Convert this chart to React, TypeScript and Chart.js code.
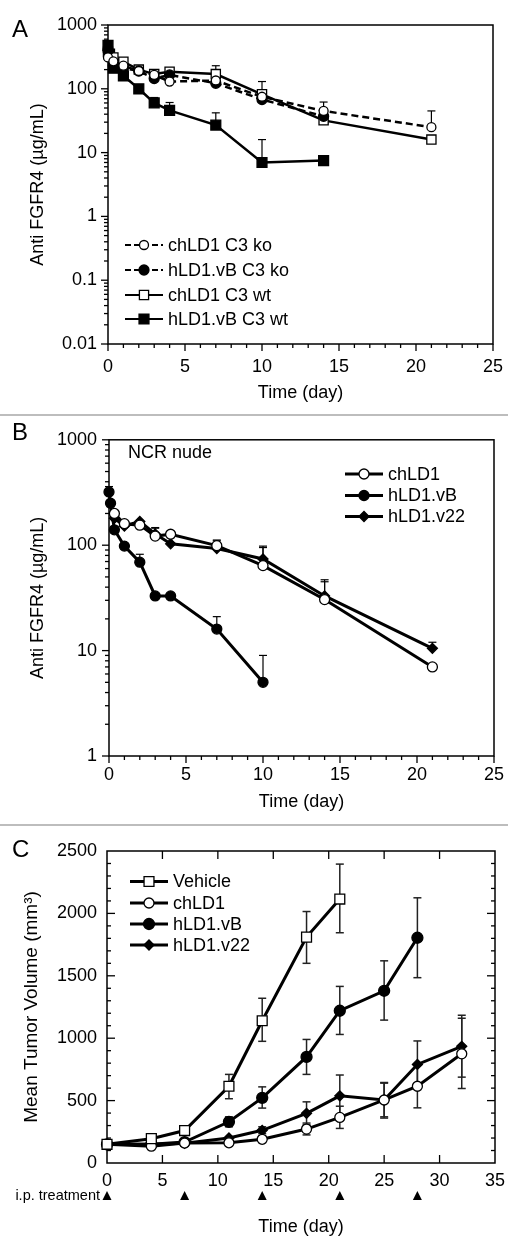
import React, { useEffect, useRef } from "react";
import { Chart, registerables } from "chart.js";
Chart.register(...registerables);

const FONT = "'Liberation Sans', Arial, Helvetica, sans-serif";
Chart.defaults.font.family = FONT;
Chart.defaults.color = "#000";

// ---------------- Panel A ----------------
const A_Y_TICKS = [0.01, 0.1, 1, 10, 100, 1000];

const A_CH_KO_DAYS = [0, 0.35, 1, 2, 3, 4, 7, 10, 14, 21];
const A_CH_KO_VALS = [310, 270, 230, 190, 165, 130, 135, 75, 45, 25];
const A_CH_KO_ERR = [null, null, null, null, null, 150, 150, 95, 62, 45];

const A_VB_KO_DAYS = [0, 0.35, 1, 2, 3, 4, 7, 10, 14];
const A_VB_KO_VALS = [400, 230, 210, 190, 145, 165, 122, 68, 37];
const A_VB_KO_ERR = [450, null, null, null, 165, null, 140, 80, 42];

const A_CH_WT_DAYS = [0, 0.35, 1, 2, 3, 4, 7, 10, 14, 21];
const A_CH_WT_VALS = [380, 310, 265, 200, 170, 185, 170, 82, 32, 16];
const A_CH_WT_ERR = [null, 330, 295, null, null, 200, 230, 130, 40, null];

const A_VB_WT_DAYS = [0, 0.1, 0.35, 1, 2, 3, 4, 7, 10, 14];
const A_VB_WT_VALS = [480, 350, 210, 160, 100, 60, 46, 27, 7, 7.5];
const A_VB_WT_ERR = [560, null, null, null, null, 73, 61, 42, 16, null];

// ---------------- Panel B ----------------
const B_Y_TICKS = [1, 10, 100, 1000];

const B_CH_DAYS = [0.35, 1, 2, 3, 4, 7, 10, 14, 21];
const B_CH_VALS = [200, 160, 155, 122, 127, 99, 64, 30.5, 7];
const B_CH_ERR = [null, null, null, 145, null, 110, 95, 45, null];

const B_VB_DAYS = [0, 0.1, 0.35, 1, 2, 3, 4, 7, 10];
const B_VB_VALS = [320, 250, 140, 98, 69, 33, 33, 16, 5];
const B_VB_ERR = [360, null, null, null, 82, null, null, 21, 9];

const B_V22_DAYS = [0.35, 1, 2, 3, 4, 7, 10, 14, 21];
const B_V22_VALS = [180, 152, 168, 128, 103, 93, 74, 33, 10.5];
const B_V22_ERR = [null, null, null, 147, null, 112, 98, 47, 12];

// ---------------- Panel C ----------------
const C_VEH_DAYS = [0, 4, 7, 11, 14, 18, 21];
const C_VEH_VALS = [150, 195, 260, 615, 1140, 1810, 2115];
const C_VEH_HI = [null, null, 275, 710, 1320, 2015, 2395];
const C_VEH_LO = [null, null, 245, 515, 975, 1600, 1845];

const C_CH_DAYS = [0, 4, 7, 11, 14, 18, 21, 25, 28, 32];
const C_CH_VALS = [150, 135, 160, 162, 190, 272, 365, 505, 615, 875];
const C_CH_HI = [null, null, null, null, 215, 320, 455, 640, 790, 1160];
const C_CH_LO = [null, null, null, null, 165, 225, 277, 360, 442, 597];

const C_VB_DAYS = [0, 4, 7, 11, 14, 18, 21, 25, 28];
const C_VB_VALS = [150, 150, 168, 330, 522, 850, 1220, 1380, 1805];
const C_VB_HI = [null, null, null, 370, 610, 990, 1415, 1620, 2125];
const C_VB_LO = [null, null, null, 290, 440, 710, 1030, 1145, 1485];

const C_V22_DAYS = [0, 4, 7, 11, 14, 18, 21, 25, 28, 32];
const C_V22_VALS = [150, 150, 158, 200, 262, 398, 538, 505, 790, 935];
const C_V22_HI = [null, null, null, null, 290, 490, 705, 645, 978, 1184];
const C_V22_LO = [null, null, null, null, 235, 306, 372, 370, 600, 688];

const C_TREAT_DAYS = [0, 7, 14, 21, 28];

// ---------------- helpers ----------------
function ds(label: string, days: number[], vals: number[], style: string, filled: boolean,
  r: number, lw: number, dash: number[], hi: (number | null)[] | null, lo: (number | null)[] | null) {
  return {
    label,
    data: days.map((d, i) => ({ x: d, y: vals[i] })),
    errHi: hi,
    errLo: lo,
    borderColor: "#000",
    borderWidth: lw,
    borderDash: dash,
    pointStyle: style,
    pointRadius: r,
    pointHoverRadius: r,
    pointBackgroundColor: filled ? "#000" : "#fff",
    pointBorderColor: "#000",
    pointBorderWidth: 1.3,
    tension: 0,
    fill: false,
    clip: false,
  };
}

function drawMarker(ctx: CanvasRenderingContext2D, style: string, r: number, x: number, y: number, fill: string) {
  ctx.save();
  ctx.setLineDash([]);
  ctx.beginPath();
  if (style === "circle") ctx.arc(x, y, r, 0, Math.PI * 2);
  else if (style === "rect") {
    const s = r * Math.SQRT1_2;
    ctx.rect(x - s, y - s, 2 * s, 2 * s);
  } else {
    ctx.moveTo(x - r, y);
    ctx.lineTo(x, y - r);
    ctx.lineTo(x + r, y);
    ctx.lineTo(x, y + r);
    ctx.closePath();
  }
  ctx.fillStyle = fill;
  ctx.fill();
  ctx.lineWidth = 1.3;
  ctx.strokeStyle = "#000";
  ctx.stroke();
  ctx.restore();
}

function makeDeco(cfg: any) {
  return {
    id: "deco",
    beforeDatasetsDraw(chart: any) {
      const { ctx, chartArea: a, scales } = chart;
      const xs = scales.x, ys = scales.y;
      ctx.save();
      ctx.strokeStyle = "#000";
      ctx.lineWidth = 1.3;
      const sgn = cfg.tickIn ? -1 : 1;
      const line = (x1: number, y1: number, x2: number, y2: number) => {
        ctx.beginPath(); ctx.moveTo(x1, y1); ctx.lineTo(x2, y2); ctx.stroke();
      };
      const xt = (vals: number[], len: number) => {
        for (const v of vals) {
          const px = xs.getPixelForValue(v);
          line(px, a.bottom, px, a.bottom + sgn * len);
          if (cfg.mirror) line(px, a.top, px, a.top - sgn * len);
        }
      };
      const yt = (vals: number[], len: number) => {
        for (const v of vals) {
          const py = ys.getPixelForValue(v);
          line(a.left, py, a.left - sgn * len, py);
          if (cfg.mirror) line(a.right, py, a.right + sgn * len, py);
        }
      };
      xt(cfg.xMajor, cfg.majorLen);
      xt(cfg.xMinor, cfg.minorLen);
      yt(cfg.yMajor, cfg.majorLen);
      yt(cfg.yMinor, cfg.minorLen);
      ctx.lineWidth = 1.5;
      ctx.strokeRect(a.left, a.top, a.right - a.left, a.bottom - a.top);

      // error bars
      ctx.strokeStyle = cfg.errColor;
      ctx.lineWidth = cfg.errWidth;
      chart.data.datasets.forEach((d: any, i: number) => {
        const meta = chart.getDatasetMeta(i);
        d.data.forEach((_p: any, j: number) => {
          const pt = meta.data[j];
          if (!pt) return;
          for (const arr of [d.errHi, d.errLo]) {
            if (!arr || arr[j] == null) continue;
            const py = ys.getPixelForValue(arr[j]);
            line(pt.x, pt.y, pt.x, py);
            line(pt.x - cfg.cap, py, pt.x + cfg.cap, py);
          }
        });
      });
      ctx.restore();
    },
    afterDraw(chart: any) {
      const { ctx, scales } = chart;
      ctx.save();
      ctx.fillStyle = "#000";
      ctx.textBaseline = "alphabetic";
      ctx.textAlign = "left";
      ctx.font = `24px ${FONT}`;
      ctx.fillText(cfg.letter.text, cfg.letter.x, cfg.letter.y);

      for (const t of cfg.texts || []) {
        ctx.font = `${t.size}px ${FONT}`;
        ctx.textAlign = t.align || "left";
        ctx.textBaseline = "middle";
        ctx.fillText(t.text, t.x, t.y);
      }

      // legend
      const L = cfg.legend;
      chart.data.datasets.forEach((d: any, i: number) => {
        const y = L.ys[i];
        ctx.save();
        ctx.strokeStyle = "#000";
        ctx.lineWidth = L.lw;
        ctx.setLineDash(d.borderDash && d.borderDash.length ? L.dash : []);
        ctx.beginPath();
        ctx.moveTo(L.x, y);
        ctx.lineTo(L.x + L.len, y);
        ctx.stroke();
        ctx.restore();
        drawMarker(ctx, d.pointStyle, d.pointRadius, L.x + L.len / 2, y, d.pointBackgroundColor);
        ctx.font = `${L.size}px ${FONT}`;
        ctx.textAlign = "left";
        ctx.textBaseline = "middle";
        ctx.fillStyle = "#000";
        ctx.fillText(d.label, L.x + L.len + L.gap, y + 1);
      });

      // treatment markers
      if (cfg.treat) {
        const T = cfg.treat;
        ctx.font = `${T.size}px ${FONT}`;
        ctx.textAlign = "right";
        ctx.textBaseline = "middle";
        ctx.fillText(T.text, T.textX, T.y);
        for (const d of T.days) {
          const px = scales.x.getPixelForValue(d);
          ctx.beginPath();
          ctx.moveTo(px, T.y - 5);
          ctx.lineTo(px + 4.5, T.y + 4);
          ctx.lineTo(px - 4.5, T.y + 4);
          ctx.closePath();
          ctx.fill();
        }
      }
      ctx.restore();
    },
  };
}

function range(a: number, b: number, step: number, skip?: number) {
  const out: number[] = [];
  for (let v = a; v <= b + 1e-9; v += step) {
    if (skip && Math.abs(v / skip - Math.round(v / skip)) < 1e-9) continue;
    out.push(v);
  }
  return out;
}
function logMinor(lo: number, hi: number) {
  const out: number[] = [];
  for (let d = lo; d < hi; d *= 10) for (let k = 2; k <= 9; k++) out.push(k * d);
  return out;
}

function baseOptions(pad: any, xCfg: any, yCfg: any) {
  return {
    responsive: false,
    animation: false,
    devicePixelRatio: 1,
    events: [],
    layout: { padding: pad },
    plugins: { legend: { display: false }, tooltip: { enabled: false } },
    scales: { x: xCfg, y: yCfg },
  };
}

function xAxis(max: number, pad: number, h: number, titlePad: number) {
  return {
    type: "linear",
    min: 0,
    max,
    ticks: { stepSize: 5, padding: pad, font: { size: 18 }, color: "#000", maxRotation: 0, autoSkip: false, callback: (v: any) => String(v) },
    grid: { display: false, drawTicks: false },
    border: { display: false },
    title: { display: true, text: "Time (day)", font: { size: 18 }, color: "#000", padding: { top: 0, bottom: titlePad } },
    afterFit: (s: any) => { s.height = h; },
  };
}

function logYAxis(ticks: number[], w: number, pad: number, title: string, tpad: number) {
  return {
    type: "logarithmic",
    min: ticks[0],
    max: ticks[ticks.length - 1],
    afterBuildTicks: (s: any) => { s.ticks = ticks.map((v) => ({ value: v })); },
    ticks: { callback: (v: any) => String(v), padding: pad, font: { size: 18 }, color: "#000", autoSkip: false },
    grid: { display: false, drawTicks: false },
    border: { display: false },
    title: { display: true, text: title, font: { size: 18 }, color: "#000", padding: { top: tpad, bottom: 0 } },
    afterFit: (s: any) => { s.width = w; },
  };
}

// ---------------- configs ----------------
function configA() {
  return {
    type: "line",
    data: {
      datasets: [
        ds("chLD1 C3 ko", A_CH_KO_DAYS, A_CH_KO_VALS, "circle", false, 4.5, 2.5, [7, 4], A_CH_KO_ERR, null),
        ds("hLD1.vB C3 ko", A_VB_KO_DAYS, A_VB_KO_VALS, "circle", true, 5, 2.5, [7, 4], A_VB_KO_ERR, null),
        ds("chLD1 C3 wt", A_CH_WT_DAYS, A_CH_WT_VALS, "rect", false, 6.5, 2.5, [], A_CH_WT_ERR, null),
        ds("hLD1.vB C3 wt", A_VB_WT_DAYS, A_VB_WT_VALS, "rect", true, 7, 2.5, [], A_VB_WT_ERR, null),
      ],
    },
    options: baseOptions(
      { top: 25, right: 24, left: 0, bottom: 0 },
      xAxis(25, 12, 70, 10),
      logYAxis(A_Y_TICKS, 108, 11, "Anti FGFR4 (µg/mL)", 27)
    ),
    plugins: [makeDeco({
      letter: { text: "A", x: 12, y: 37 },
      xMajor: range(0, 25, 5), xMinor: range(0, 25, 1, 5),
      yMajor: A_Y_TICKS, yMinor: logMinor(0.01, 1000),
      tickIn: false, mirror: false, majorLen: 7, minorLen: 4,
      errColor: "#000", errWidth: 1.2, cap: 4,
      legend: { x: 125, ys: [245, 270, 295, 319], len: 38, gap: 5, size: 18, lw: 2.2, dash: [6, 3] },
    })],
  };
}

function configB() {
  return {
    type: "line",
    data: {
      datasets: [
        ds("chLD1", B_CH_DAYS, B_CH_VALS, "circle", false, 5, 3, [], B_CH_ERR, null),
        ds("hLD1.vB", B_VB_DAYS, B_VB_VALS, "circle", true, 5, 3, [], B_VB_ERR, null),
        ds("hLD1.v22", B_V22_DAYS, B_V22_VALS, "rectRot", true, 5, 3, [], B_V22_ERR, null),
      ],
    },
    options: baseOptions(
      { top: 18, right: 23, left: 0, bottom: 0 },
      xAxis(25, 8, 67, 10),
      logYAxis(B_Y_TICKS, 109, 12, "Anti FGFR4 (µg/mL)", 27)
    ),
    plugins: [makeDeco({
      letter: { text: "B", x: 12, y: 23 },
      xMajor: range(0, 25, 5), xMinor: range(0, 25, 1, 5),
      yMajor: B_Y_TICKS, yMinor: logMinor(1, 1000),
      tickIn: false, mirror: false, majorLen: 7, minorLen: 4,
      errColor: "#000", errWidth: 1.2, cap: 4,
      texts: [{ text: "NCR nude", x: 128, y: 36, size: 18 }],
      legend: { x: 345, ys: [57, 78.5, 99.5], len: 38, gap: 5, size: 18, lw: 3, dash: [] },
    })],
  };
}

function configC() {
  return {
    type: "line",
    data: {
      datasets: [
        ds("Vehicle", C_VEH_DAYS, C_VEH_VALS, "rect", false, 7, 3, [], C_VEH_HI, C_VEH_LO),
        ds("chLD1", C_CH_DAYS, C_CH_VALS, "circle", false, 5, 3, [], C_CH_HI, C_CH_LO),
        ds("hLD1.vB", C_VB_DAYS, C_VB_VALS, "circle", true, 5.5, 3, [], C_VB_HI, C_VB_LO),
        ds("hLD1.v22", C_V22_DAYS, C_V22_VALS, "rectRot", true, 5, 3, [], C_V22_HI, C_V22_LO),
      ],
    },
    options: baseOptions(
      { top: 24, right: 22, left: 0, bottom: 0 },
      { ...xAxis(35, 7, 87, 12) },
      {
        type: "linear",
        min: 0,
        max: 2500,
        ticks: { stepSize: 500, padding: 10, font: { size: 18 }, color: "#000", callback: (v: any) => String(v) },
        grid: { display: false, drawTicks: false },
        border: { display: false },
        title: { display: true, text: "Mean Tumor Volume (mm³)", font: { size: 19 }, color: "#000", padding: { top: 20, bottom: 0 } },
        afterFit: (s: any) => { s.width = 107; },
      }
    ),
    plugins: [makeDeco({
      letter: { text: "C", x: 12, y: 30 },
      xMajor: range(5, 30, 5), xMinor: [],
      yMajor: range(500, 2000, 500), yMinor: range(100, 2400, 100, 500),
      tickIn: true, mirror: true, majorLen: 8, minorLen: 4,
      errColor: "#222", errWidth: 1.5, cap: 4,
      legend: { x: 130, ys: [54.5, 76, 97, 118], len: 38, gap: 5, size: 18, lw: 3, dash: [] },
      treat: { text: "i.p. treatment", textX: 100, y: 369, size: 14.5, days: C_TREAT_DAYS },
    })],
  };
}

function Panel({ top, height, make }: { top: number; height: number; make: () => any }) {
  const ref = useRef<HTMLCanvasElement>(null);
  useEffect(() => {
    const chart = new Chart(ref.current as HTMLCanvasElement, make());
    return () => chart.destroy();
  }, []);
  return (
    <canvas
      ref={ref}
      width={517}
      height={height}
      style={{ position: "absolute", left: 0, top, width: 517, height }}
    />
  );
}

export default function App() {
  return (
    <div style={{ position: "absolute", left: 0, top: 0, width: 517, height: 1250, background: "#fff", overflow: "hidden" }}>
      <Panel top={0} height={414} make={configA} />
      <div style={{ position: "absolute", left: 0, top: 414, width: 508, height: 2, background: "#bdbdbd" }} />
      <Panel top={417} height={406} make={configB} />
      <div style={{ position: "absolute", left: 0, top: 824, width: 508, height: 2, background: "#bdbdbd" }} />
      <Panel top={827} height={423} make={configC} />
    </div>
  );
}
